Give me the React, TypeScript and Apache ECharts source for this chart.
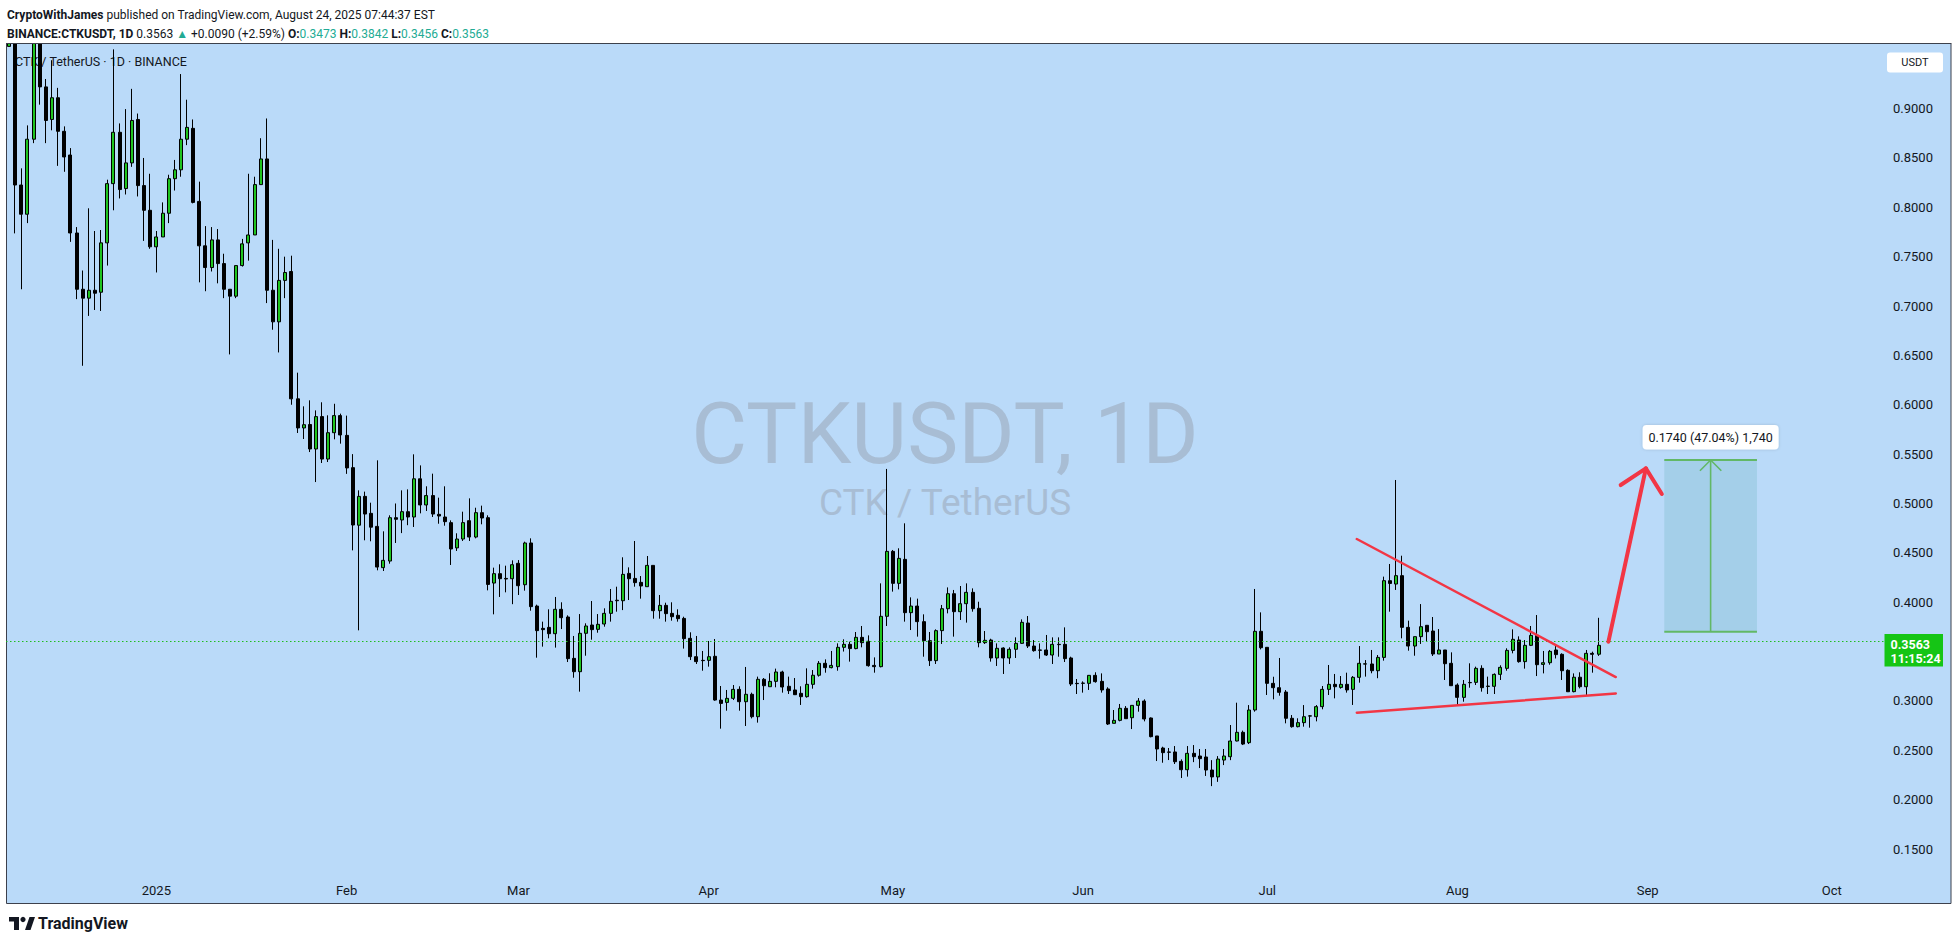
import React, { useEffect, useRef } from 'react';
import * as echarts from 'echarts';

// ---------------- data ----------------
const startDate = Date.UTC(2024, 11, 8); // first visible daily candle
const axisDays = 306; // calendar days on the time axis (to Oct 9, 2025)

// [open, close, low, high]
const dec2024: number[][] = [
  [0.963, 1.0, 0.963, 1.03], [1.0, 0.8226, 0.7736, 1.02], [0.8226, 0.793, 0.717, 0.8395],
  [0.793, 0.869, 0.784, 0.883], [0.869, 1.01, 0.865, 1.04], [1.01, 0.922, 0.904, 1.03],
  [0.922, 0.888, 0.865, 0.93], [0.889, 0.911, 0.878, 0.949], [0.911, 0.877, 0.842, 0.921],
  [0.877, 0.851, 0.836, 0.882], [0.853, 0.774, 0.765, 0.86], [0.774, 0.717, 0.707, 0.78],
  [0.717, 0.708, 0.6395, 0.736], [0.708, 0.716, 0.69, 0.799], [0.716, 0.713, 0.696, 0.776],
  [0.714, 0.764, 0.695, 0.777], [0.764, 0.824, 0.741, 0.828], [0.824, 0.876, 0.797, 0.96],
  [0.876, 0.818, 0.809, 0.885], [0.819, 0.845, 0.813, 0.8995], [0.845, 0.888, 0.841, 0.92],
  [0.889, 0.822, 0.811, 0.895], [0.822, 0.797, 0.766, 0.85], [0.797, 0.76, 0.758, 0.834],
];
const jan2025: number[][] = [
  [0.76, 0.77, 0.734, 0.776], [0.77, 0.794, 0.77, 0.805], [0.794, 0.829, 0.784, 0.833],
  [0.829, 0.838, 0.817, 0.848], [0.838, 0.869, 0.831, 0.935], [0.869, 0.881, 0.863, 0.909],
  [0.88, 0.805, 0.804, 0.889], [0.806, 0.761, 0.724, 0.826], [0.761, 0.739, 0.715, 0.781],
  [0.739, 0.767, 0.735, 0.78], [0.767, 0.743, 0.723, 0.778], [0.743, 0.717, 0.708, 0.753],
  [0.717, 0.71, 0.651, 0.717], [0.71, 0.741, 0.708, 0.741], [0.741, 0.763, 0.74, 0.768],
  [0.764, 0.772, 0.746, 0.834], [0.772, 0.823, 0.772, 0.831], [0.823, 0.849, 0.823, 0.87],
  [0.849, 0.716, 0.703, 0.89], [0.716, 0.684, 0.676, 0.767], [0.684, 0.726, 0.653, 0.758],
  [0.726, 0.734, 0.708, 0.75], [0.735, 0.606, 0.6, 0.751], [0.606, 0.5765, 0.5714, 0.6325],
  [0.5765, 0.5798, 0.5653, 0.5984], [0.58, 0.5552, 0.5521, 0.6045], [0.5552, 0.588, 0.5217, 0.5943],
  [0.588, 0.545, 0.541, 0.6025], [0.545, 0.5717, 0.542, 0.5893], [0.5717, 0.589, 0.565, 0.601],
  [0.589, 0.5694, 0.5606, 0.591],
];
const feb2025: number[][] = [
  [0.569, 0.536, 0.53, 0.589], [0.5363, 0.4782, 0.4525, 0.55], [0.478, 0.5072, 0.3715, 0.5133],
  [0.5072, 0.4893, 0.4627, 0.512], [0.49, 0.476, 0.4617, 0.5008], [0.4768, 0.4356, 0.4323, 0.5437],
  [0.435, 0.4424, 0.4316, 0.4718], [0.4417, 0.4856, 0.439, 0.488], [0.4856, 0.484, 0.46, 0.5],
  [0.4833, 0.4917, 0.47, 0.5133], [0.4917, 0.4863, 0.478, 0.5143], [0.4863, 0.525, 0.4762, 0.5498],
  [0.525, 0.4985, 0.49, 0.5386], [0.4985, 0.508, 0.4924, 0.5174], [0.508, 0.4893, 0.4863, 0.5302],
  [0.489, 0.4873, 0.4795, 0.5059], [0.4863, 0.4816, 0.4775, 0.5174], [0.4806, 0.4539, 0.4377, 0.4829],
  [0.455, 0.464, 0.4519, 0.4698], [0.464, 0.4806, 0.462, 0.4917], [0.4826, 0.466, 0.462, 0.5052],
  [0.466, 0.4907, 0.4647, 0.4957], [0.4907, 0.4853, 0.4789, 0.4978], [0.4856, 0.418, 0.412, 0.488],
  [0.4194, 0.4289, 0.3877, 0.435], [0.4289, 0.4238, 0.4053, 0.4384], [0.4241, 0.4235, 0.41, 0.437],
  [0.4238, 0.438, 0.398, 0.4424],
];
const mar2025: number[][] = [
  [0.4394, 0.4167, 0.4073, 0.4427], [0.4177, 0.46, 0.4117, 0.4613], [0.46, 0.3955, 0.3914, 0.4647],
  [0.3961, 0.3712, 0.3438, 0.3975], [0.3735, 0.3722, 0.355, 0.3803], [0.3745, 0.3681, 0.3634, 0.3928],
  [0.3681, 0.3928, 0.354, 0.4053], [0.3928, 0.3843, 0.3728, 0.3999], [0.385, 0.3428, 0.3394, 0.3867],
  [0.3431, 0.3296, 0.3235, 0.3658], [0.3296, 0.3685, 0.3094, 0.388], [0.3685, 0.3759, 0.3458, 0.3786],
  [0.3769, 0.3722, 0.362, 0.4012], [0.3725, 0.3776, 0.3691, 0.388], [0.3779, 0.3887, 0.3752, 0.3938],
  [0.3887, 0.4009, 0.3803, 0.4134], [0.402, 0.4015, 0.3904, 0.4157], [0.4015, 0.4282, 0.392, 0.4455],
  [0.4292, 0.4238, 0.4022, 0.4353], [0.4241, 0.4198, 0.4157, 0.462], [0.4201, 0.4164, 0.4036, 0.4265],
  [0.4157, 0.4373, 0.4157, 0.4468], [0.4373, 0.3914, 0.3833, 0.4373], [0.3914, 0.3968, 0.3833, 0.4073],
  [0.3968, 0.3884, 0.3803, 0.3995], [0.3887, 0.3853, 0.3813, 0.3999], [0.3867, 0.3833, 0.3803, 0.3928],
  [0.3836, 0.3631, 0.353, 0.3853], [0.3634, 0.3448, 0.3414, 0.3695], [0.3448, 0.3398, 0.3374, 0.3658],
  [0.3411, 0.3408, 0.3306, 0.3506],
];
const apr2025: number[][] = [
  [0.3411, 0.3448, 0.3347, 0.3607], [0.3452, 0.3009, 0.3002, 0.3627], [0.3009, 0.2975, 0.2719, 0.3151],
  [0.2985, 0.3026, 0.2901, 0.3111], [0.3026, 0.3117, 0.3009, 0.3161], [0.3117, 0.2992, 0.2901, 0.3148],
  [0.2992, 0.3067, 0.2746, 0.3344], [0.3067, 0.284, 0.2823, 0.3084], [0.284, 0.3219, 0.278, 0.3246],
  [0.3219, 0.3154, 0.3009, 0.3232], [0.3144, 0.3198, 0.3144, 0.328], [0.3198, 0.3293, 0.3138, 0.3327],
  [0.3293, 0.3141, 0.3084, 0.3306], [0.3148, 0.3104, 0.307, 0.3246], [0.3111, 0.3063, 0.306, 0.3232],
  [0.3077, 0.3043, 0.2959, 0.3148], [0.3043, 0.3168, 0.3033, 0.333], [0.3168, 0.326, 0.3124, 0.3313],
  [0.326, 0.3381, 0.3246, 0.3404], [0.3381, 0.3337, 0.3286, 0.3421], [0.3337, 0.336, 0.333, 0.3506],
  [0.3347, 0.3543, 0.3306, 0.3583], [0.3543, 0.3573, 0.35, 0.3624], [0.3573, 0.353, 0.3398, 0.36],
  [0.353, 0.3644, 0.3523, 0.3698], [0.3644, 0.359, 0.3543, 0.3759], [0.3604, 0.3357, 0.3347, 0.3664],
  [0.336, 0.3347, 0.3286, 0.3441], [0.3347, 0.3857, 0.334, 0.4191], [0.3857, 0.4515, 0.3759, 0.535],
];
const may2025: number[][] = [
  [0.4515, 0.4191, 0.4107, 0.4529], [0.4191, 0.4444, 0.413, 0.4546], [0.4434, 0.3894, 0.3803, 0.4799],
  [0.3894, 0.3961, 0.3718, 0.4049], [0.3961, 0.3803, 0.3651, 0.4036], [0.3803, 0.361, 0.3448, 0.3877],
  [0.361, 0.3408, 0.3354, 0.3698], [0.3408, 0.3712, 0.3374, 0.3725], [0.3712, 0.3934, 0.3577, 0.3972],
  [0.3934, 0.4086, 0.3887, 0.415], [0.4086, 0.3904, 0.3651, 0.4124], [0.3904, 0.3985, 0.382, 0.4164],
  [0.3985, 0.41, 0.3793, 0.4191], [0.41, 0.3934, 0.3904, 0.414], [0.3938, 0.359, 0.3543, 0.4005],
  [0.359, 0.3614, 0.3577, 0.3708], [0.3617, 0.3435, 0.3398, 0.363], [0.3435, 0.3533, 0.3354, 0.3583],
  [0.3536, 0.3435, 0.3273, 0.3543], [0.3435, 0.3523, 0.3374, 0.3543], [0.3523, 0.3583, 0.3435, 0.3644],
  [0.3583, 0.3796, 0.3577, 0.3826], [0.3789, 0.3556, 0.3536, 0.386], [0.3556, 0.3509, 0.3499, 0.3617],
  [0.3516, 0.3513, 0.3428, 0.3583], [0.3516, 0.3465, 0.3455, 0.3668], [0.3465, 0.3573, 0.3374, 0.3644],
  [0.3573, 0.357, 0.3448, 0.3644], [0.3573, 0.3428, 0.3394, 0.3745], [0.3435, 0.3171, 0.3151, 0.3448],
  [0.3178, 0.3175, 0.307, 0.3222],
];
const jun2025: number[][] = [
  [0.3178, 0.3181, 0.3084, 0.3198], [0.3178, 0.3259, 0.3111, 0.3262], [0.3259, 0.3195, 0.3185, 0.329],
  [0.3198, 0.3111, 0.3084, 0.3279], [0.3121, 0.2766, 0.2756, 0.3138], [0.2773, 0.2803, 0.2773, 0.2908],
  [0.2803, 0.2925, 0.2793, 0.2969], [0.2925, 0.282, 0.282, 0.2948], [0.283, 0.2955, 0.2715, 0.2955],
  [0.2955, 0.2999, 0.2891, 0.3029], [0.2999, 0.2817, 0.2793, 0.3016], [0.2827, 0.2638, 0.2631, 0.2833],
  [0.2645, 0.2513, 0.2391, 0.2645], [0.2523, 0.2476, 0.2374, 0.2536], [0.2483, 0.248, 0.2401, 0.2523],
  [0.2483, 0.2384, 0.2361, 0.2543], [0.2388, 0.2303, 0.2219, 0.2408], [0.2303, 0.2469, 0.2233, 0.2543],
  [0.2469, 0.2435, 0.238, 0.2553], [0.2442, 0.2415, 0.232, 0.2513], [0.2432, 0.23, 0.224, 0.2513],
  [0.23, 0.223, 0.2137, 0.24], [0.223, 0.2411, 0.218, 0.2441], [0.2401, 0.2442, 0.235, 0.2513],
  [0.2435, 0.2594, 0.24, 0.2756], [0.2594, 0.2682, 0.259, 0.2982], [0.2682, 0.2563, 0.2553, 0.2699],
  [0.2577, 0.2908, 0.2563, 0.2958], [0.2908, 0.3705, 0.2891, 0.4134], [0.3705, 0.3539, 0.3522, 0.3897],
];
const jul2025: number[][] = [
  [0.3543, 0.3178, 0.306, 0.3543], [0.3178, 0.3134, 0.3016, 0.3245], [0.3134, 0.3087, 0.3053, 0.3435],
  [0.309, 0.2824, 0.2773, 0.311], [0.2824, 0.2739, 0.2729, 0.2857], [0.2739, 0.278, 0.2732, 0.2824],
  [0.278, 0.284, 0.2739, 0.2958], [0.2846, 0.2849, 0.2729, 0.2857], [0.284, 0.2942, 0.2793, 0.2958],
  [0.2942, 0.3117, 0.2915, 0.3151], [0.3117, 0.3168, 0.306, 0.3364], [0.3168, 0.3144, 0.3026, 0.3273],
  [0.3137, 0.3168, 0.3124, 0.3252], [0.3168, 0.3111, 0.3084, 0.3286], [0.3117, 0.3239, 0.2959, 0.3252],
  [0.3239, 0.3381, 0.3185, 0.3556], [0.3373, 0.3376, 0.3246, 0.3414], [0.3374, 0.3306, 0.328, 0.3516],
  [0.3306, 0.3441, 0.323, 0.3465], [0.3441, 0.4218, 0.3408, 0.4259], [0.4218, 0.419, 0.3904, 0.4387],
  [0.4184, 0.4269, 0.4124, 0.5238], [0.4269, 0.3745, 0.3634, 0.4471], [0.3745, 0.3556, 0.3509, 0.3813],
  [0.3556, 0.3651, 0.3458, 0.3651], [0.3651, 0.3752, 0.3577, 0.3981], [0.3766, 0.3701, 0.36, 0.3766],
  [0.3708, 0.3475, 0.3455, 0.385], [0.3475, 0.3516, 0.3475, 0.3728], [0.3516, 0.3377, 0.3212, 0.3516],
  [0.3381, 0.3154, 0.3154, 0.3492],
];
const aug2025: number[][] = [
  [0.3161, 0.3036, 0.2952, 0.3178], [0.3036, 0.3168, 0.2992, 0.3212], [0.3184, 0.3187, 0.3134, 0.3381],
  [0.3188, 0.333, 0.3161, 0.3347], [0.333, 0.3134, 0.3094, 0.3361], [0.3147, 0.315, 0.307, 0.3246],
  [0.3148, 0.3269, 0.307, 0.3279], [0.3269, 0.334, 0.3212, 0.3361], [0.333, 0.3512, 0.3306, 0.3533],
  [0.3512, 0.3624, 0.3482, 0.3725], [0.3617, 0.3398, 0.3387, 0.3654], [0.3398, 0.3563, 0.3327, 0.3617],
  [0.3563, 0.3664, 0.3556, 0.3759], [0.3664, 0.3367, 0.3252, 0.387], [0.337, 0.3387, 0.3279, 0.3506],
  [0.3387, 0.3502, 0.3367, 0.3516], [0.3516, 0.3469, 0.343, 0.3566], [0.3472, 0.3306, 0.3212, 0.3482],
  [0.331, 0.3093, 0.3093, 0.332], [0.3094, 0.324, 0.3087, 0.3279], [0.324, 0.3144, 0.3127, 0.329],
  [0.3144, 0.3482, 0.305, 0.3516], [0.3482, 0.3472, 0.3286, 0.3499], [0.3473, 0.3563, 0.3456, 0.3842],
];

// 0.3500 is hidden behind the last-price tag, as in the reference
const priceTicks = [0.15, 0.2, 0.25, 0.3, 0.4, 0.45, 0.5, 0.55, 0.6, 0.65, 0.7, 0.75, 0.8, 0.85, 0.9];
const monthTickLabels: Record<string, string> = {
  '2025-01-01': '2025', '2025-02-01': 'Feb', '2025-03-01': 'Mar', '2025-04-01': 'Apr',
  '2025-05-01': 'May', '2025-06-01': 'Jun', '2025-07-01': 'Jul', '2025-08-01': 'Aug',
  '2025-09-01': 'Sep', '2025-10-01': 'Oct',
};
const lastQuote = { o: '0.3473', h: '0.3842', l: '0.3456', c: 0.3563, chg: '+0.0090', pct: '(+2.59%)', countdown: '11:15:24' };

// drawings, in [day index, price]
const trendUpper = [[219.6, 0.464], [261.8, 0.3242]];
const trendLower = [[219.6, 0.288], [261.8, 0.3075]];
const arrowShaft = [[260.6, 0.36], [266.7, 0.5356]];
const arrowHead = [[262.6, 0.5187], [266.7, 0.5356], [269.3, 0.5096]];
const measureBox = [269.7, 284.8, 0.37, 0.544]; // from idx, to idx, low price, high price
const measureLabel = '0.1740 (47.04%) 1,740';

// ---------------- layout / style ----------------
const W = 1957, H = 941;
const GRID = { left: 6, top: 43.3, width: 1878, height: 832.7 };
const Y_MIN = 0.12265, Y_MAX = 0.96615;
const BG = '#badaf9';
const INK = '#131722';
const UP = '#1fc41f';
const RED = '#f23645';
const TEAL = '#22ab94';
const FRAME = '#3d414c';
const FONT = 'Roboto, "Liberation Sans", sans-serif';

export default function App() {
  const ref = useRef<HTMLDivElement>(null);

  useEffect(() => {
    if (!ref.current) return;
    const chart = echarts.init(ref.current, undefined, { renderer: 'svg', width: W, height: H });

    const dates: string[] = [];
    for (let i = 0; i < axisDays; i++) {
      dates.push(new Date(startDate + i * 86400000).toISOString().slice(0, 10));
    }
    const candles = [...dec2024, ...jan2025, ...feb2025, ...mar2025, ...apr2025, ...may2025, ...jun2025, ...jul2025, ...aug2025];
    const lastIdx = candles.length - 1;

    const redLine = (name: string, data: number[][], width: number) => ({
      name, type: 'line', xAxisIndex: 1, yAxisIndex: 0, data, symbol: 'none', silent: true, z: 6,
      lineStyle: { color: RED, width, cap: 'round', join: 'round' },
    });

    const wmX = GRID.left + GRID.width / 2;

    chart.setOption({
      animation: false,
      backgroundColor: '#ffffff',
      grid: { left: GRID.left, top: GRID.top, width: GRID.width, height: GRID.height, containLabel: false },
      xAxis: [
        {
          type: 'category', data: dates, boundaryGap: true,
          axisLine: { show: false }, axisTick: { show: false }, splitLine: { show: false },
          axisLabel: {
            interval: (_i: number, v: string) => v in monthTickLabels,
            formatter: (v: string) => monthTickLabels[v] ?? '',
            color: INK, fontSize: 13, fontFamily: FONT, margin: 8,
          },
        },
        { type: 'value', min: -0.5, max: axisDays - 0.5, show: false },
      ],
      yAxis: [{
        type: 'value', position: 'right', min: Y_MIN, max: Y_MAX,
        axisLine: { show: false }, axisTick: { show: false }, splitLine: { show: false },
        axisLabel: {
          customValues: priceTicks, formatter: (v: number) => v.toFixed(4),
          color: INK, fontSize: 13, fontFamily: FONT, margin: 9,
        },
      }],
      graphic: [
        { type: 'rect', z: -10, silent: true, shape: { x: 6.5, y: 43.5, width: 1944.5, height: 860 },
          style: { fill: BG, stroke: FRAME, lineWidth: 1 } },
        { type: 'text', z: -5, silent: true, x: wmX, y: 433,
          style: { text: 'CTKUSDT, 1D', fill: '#a8bdd4', font: `86px ${FONT}`, align: 'center', verticalAlign: 'middle' } },
        { type: 'text', z: -5, silent: true, x: wmX, y: 502,
          style: { text: 'CTK / TetherUS', fill: '#a8bdd4', font: `37px ${FONT}`, align: 'center', verticalAlign: 'middle' } },
        { type: 'text', z: -4, silent: true, x: 15, y: 61,
          style: { text: 'CTK / TetherUS · 1D · BINANCE', fill: INK, font: `12.5px ${FONT}`, verticalAlign: 'middle' } },
        { type: 'rect', z: 5, silent: true, shape: { x: 1887, y: 52.5, width: 56, height: 20, r: 3 },
          style: { fill: '#ffffff' } },
        { type: 'text', z: 6, silent: true, x: 1915, y: 62.5,
          style: { text: 'USDT', fill: INK, font: `11px ${FONT}`, align: 'center', verticalAlign: 'middle' } },
        // white header strip above the pane: hides candle parts that rise over the pane top
        { type: 'rect', z: 50, silent: true, shape: { x: 0, y: 0, width: W, height: 43.5 }, style: { fill: '#ffffff' } },
        { type: 'line', z: 51, silent: true, shape: { x1: 6, y1: 43.5, x2: 1951.5, y2: 43.5 }, style: { stroke: FRAME, lineWidth: 1 } },
        { type: 'text', z: 52, silent: true, x: 7, y: 15.3,
          style: {
            text: '{b|CryptoWithJames} published on TradingView.com, August 24, 2025 07:44:37 EST',
            fill: INK, font: `12px ${FONT}`, verticalAlign: 'middle',
            rich: { b: { fontWeight: 'bold', fill: INK, fontSize: 12, fontFamily: FONT } },
          } },
        { type: 'text', z: 52, silent: true, x: 7, y: 33.7,
          style: {
            text: `{b|BINANCE:CTKUSDT, 1D} ${lastQuote.c.toFixed(4)} {g|▲} ${lastQuote.chg} ${lastQuote.pct} {b|O:}{g|${lastQuote.o}} {b|H:}{g|${lastQuote.h}} {b|L:}{g|${lastQuote.l}} {b|C:}{g|${lastQuote.c.toFixed(4)}}`,
            fill: INK, font: `12px ${FONT}`, verticalAlign: 'middle',
            rich: {
              b: { fontWeight: 'bold', fill: INK, fontSize: 12, fontFamily: FONT },
              g: { fill: TEAL, fontSize: 12, fontFamily: FONT },
            },
          } },
        // TradingView logo
        { type: 'rect', silent: true, shape: { x: 9, y: 917, width: 10, height: 4.5 }, style: { fill: INK } },
        { type: 'rect', silent: true, shape: { x: 14, y: 917, width: 5, height: 13 }, style: { fill: INK } },
        { type: 'circle', silent: true, shape: { cx: 23, cy: 919.5, r: 2.6 }, style: { fill: INK } },
        { type: 'polygon', silent: true, shape: { points: [[25, 930], [29.5, 917], [35, 917], [30.5, 930]] }, style: { fill: INK } },
        { type: 'text', silent: true, x: 38, y: 923.5,
          style: { text: 'TradingView', fill: INK, font: `bold 16px ${FONT}`, verticalAlign: 'middle' } },
      ],
      series: [
        {
          name: 'CTKUSDT', type: 'candlestick', xAxisIndex: 0, yAxisIndex: 0, data: candles,
          barWidth: 3.5, z: 2, silent: true, clip: true,
          itemStyle: { color: UP, color0: '#000000', borderColor: '#000000', borderColor0: '#000000', borderWidth: 1 },
          markLine: {
            silent: true, symbol: 'none', animation: false,
            lineStyle: { type: [1.5, 2.5], color: '#1fbd1f', width: 1.2 },
            label: { show: false },
            data: [{ yAxis: lastQuote.c }],
          },
        },
        redLine('trendUpper', trendUpper, 2.5),
        redLine('trendLower', trendLower, 2.5),
        redLine('arrowShaft', arrowShaft, 4),
        redLine('arrowHead', arrowHead, 4),
        {
          name: 'measure', type: 'custom', xAxisIndex: 1, yAxisIndex: 0, silent: true, z: 5,
          encode: { x: [0, 1], y: [2, 3] },
          data: [measureBox],
          renderItem: (_p: any, api: any) => {
            const tl = api.coord([api.value(0), api.value(3)]);
            const br = api.coord([api.value(1), api.value(2)]);
            const cx = (tl[0] + br[0]) / 2;
            const g = '#62b866';
            return {
              type: 'group', children: [
                { type: 'rect', shape: { x: tl[0], y: tl[1], width: br[0] - tl[0], height: br[1] - tl[1] }, style: { fill: '#a4cfe9' } },
                { type: 'line', shape: { x1: tl[0], y1: tl[1], x2: br[0], y2: tl[1] }, style: { stroke: g, lineWidth: 2 } },
                { type: 'line', shape: { x1: tl[0], y1: br[1], x2: br[0], y2: br[1] }, style: { stroke: g, lineWidth: 2 } },
                { type: 'line', shape: { x1: cx, y1: br[1], x2: cx, y2: tl[1] }, style: { stroke: g, lineWidth: 1.6 } },
                { type: 'polyline', shape: { points: [[cx - 10.7, tl[1] + 10.7], [cx, tl[1]], [cx + 10.7, tl[1] + 10.7]] }, style: { stroke: g, lineWidth: 1.6, fill: 'none' } },
                { type: 'rect', shape: { x: cx - 68, y: tl[1] - 35, width: 136, height: 24.5, r: 4 },
                  style: { fill: '#ffffff', shadowBlur: 3, shadowColor: 'rgba(0,0,0,0.15)' } },
                { type: 'text', style: { x: cx, y: tl[1] - 22.5, text: measureLabel, fill: INK, font: `12.5px ${FONT}`, align: 'center', verticalAlign: 'middle' } },
              ],
            };
          },
        },
        {
          name: 'priceTag', type: 'custom', xAxisIndex: 1, yAxisIndex: 0, silent: true, z: 8, clip: false,
          data: [[lastIdx, lastQuote.c]],
          renderItem: (params: any, api: any) => {
            const p = api.coord([api.value(0), api.value(1)]);
            const cs = params.coordSys;
            const x = cs.x + cs.width + 0.5;
            return {
              type: 'group', children: [
                { type: 'rect', shape: { x, y: p[1] - 11.3, width: 58.5, height: 32.5 }, style: { fill: '#15c515' } },
                { type: 'text', style: {
                  x: x + 6, y: p[1] + 6.2, text: `${lastQuote.c.toFixed(4)}\n${lastQuote.countdown}`,
                  fill: '#ffffff', font: `bold 12.5px ${FONT}`, lineHeight: 14.5, verticalAlign: 'middle',
                } },
              ],
            };
          },
        },
      ],
    });

    return () => chart.dispose();
  }, []);

  return <div ref={ref} style={{ position: 'fixed', left: 0, top: 0, width: W, height: H }} />;
}
